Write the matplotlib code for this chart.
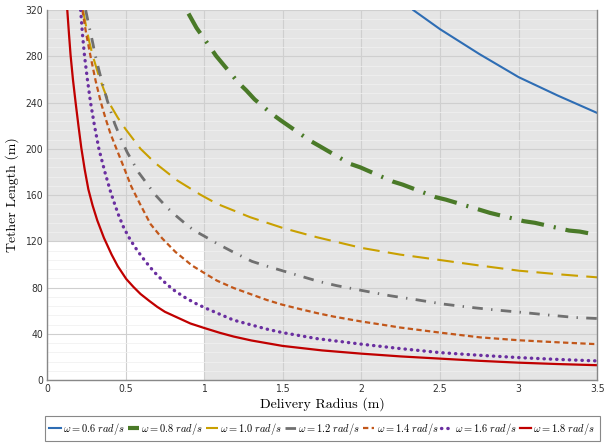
import matplotlib.pyplot as plt
from matplotlib.patches import Rectangle

plt.rcParams['mathtext.fontset'] = 'cm'

# values (delivery radius r in m, tether length L in m)
r_06 = [2.33, 2.5, 2.75, 3.0, 3.25, 3.5]
L_06 = [320, 303.5, 282, 262, 246, 231]

r_08 = [0.90, 0.951, 1.036, 1.075, 1.219, 1.268, 1.321, 1.435, 1.488, 1.674, 1.733,
        1.928, 1.992, 2.197, 2.263, 2.472, 2.538, 2.754, 2.817, 3.033, 3.103, 3.321, 3.389, 3.5]
L_08 = [317, 304.6, 288.3, 280.5, 257, 250.5, 242.7, 229.7, 224.5, 207, 202.4,
        187, 184, 171.8, 169, 158.2, 156, 147.2, 144.6, 137.4, 136, 129.3, 128.4, 125.5]

r_10 = [0.229, 0.25, 0.27, 0.292, 0.33, 0.362, 0.394, 0.45, 0.5, 0.595, 0.69, 0.828,
        0.976, 1.082, 1.293, 1.505, 1.717, 2.0, 2.246, 2.5, 2.754, 3.0, 3.25, 3.5]
L_10 = [320, 305, 292, 280, 263, 251, 240, 227, 217, 200, 187.5, 172.7,
        160.3, 152.4, 140.8, 131.3, 123.5, 114.3, 108.5, 103.8, 99, 94.6, 91.5, 88.8]

r_12 = [0.246, 0.263, 0.292, 0.305, 0.333, 0.362, 0.383, 0.43, 0.474, 0.51, 0.584, 0.652,
        0.69, 0.758, 0.806, 0.891, 0.94, 1.0, 1.086, 1.187, 1.304, 1.403, 1.511, 1.625,
        1.727, 1.844, 2.013, 2.182, 2.352, 2.52, 2.69, 2.86, 3.029, 3.198, 3.367, 3.5]
L_12 = [320, 309, 291, 282, 266.6, 252, 242, 222, 207.4, 197, 179.3, 166.9,
        160, 150, 143.8, 134, 129, 124.5, 117.7, 110.5, 102.6, 98.3, 94, 89.4,
        85.3, 81.6, 77.2, 72.9, 69.4, 65.7, 62.9, 60.5, 58.4, 56.1, 54, 53.2]

r_14 = [0.225, 0.25, 0.277, 0.309, 0.341, 0.373, 0.404, 0.436, 0.48, 0.536, 0.589,
        0.658, 0.733, 0.817, 0.923, 1.029, 1.082, 1.187, 1.293, 1.399, 1.498, 1.611,
        1.717, 1.822, 2.0, 2.14, 2.246, 2.5, 2.754, 3.0, 3.25, 3.5]
L_14 = [320, 299, 280, 259, 241, 226, 213, 202, 187, 167.5, 153,
        135, 122.5, 110.8, 99, 90.2, 85.9, 79.6, 74.4, 69.2, 65.1, 61.3,
        57.9, 54.9, 50.6, 47.7, 45.4, 41, 36.9, 34.4, 32.6, 31]

r_16 = [0.214, 0.225, 0.239, 0.257, 0.277, 0.302, 0.33, 0.368, 0.404, 0.43, 0.457, 0.489,
        0.531, 0.578, 0.627, 0.68, 0.737, 0.8, 0.87, 0.94, 1.012, 1.187, 1.399, 1.498,
        1.717, 2.0, 2.246, 2.5, 2.75, 3.0, 3.25, 3.5]
L_16 = [320, 300, 280, 260, 240, 220, 200, 180, 163, 152.4, 142, 131.5,
        121, 111.3, 102.4, 93.7, 85.9, 78.4, 72, 66.6, 62, 51.8, 44, 41,
        35.8, 31, 27.2, 23.7, 21.4, 19.4, 17.8, 16.5]

r_18 = [0.129, 0.14, 0.15, 0.165, 0.182, 0.2, 0.218, 0.24, 0.263, 0.29, 0.32, 0.362,
        0.411, 0.45, 0.504, 0.55, 0.595, 0.65, 0.701, 0.75, 0.806, 0.912, 1.0, 1.1,
        1.187, 1.3, 1.498, 1.75, 2.0, 2.25, 2.5, 2.75, 3.0, 3.25, 3.5]
L_18 = [320, 299, 281, 260, 240, 220, 201, 182, 165, 151, 138, 123,
        108.5, 98.5, 87.4, 80.5, 74.4, 68.5, 63.3, 59, 55.5, 48.9, 45, 40.8,
        37.6, 34.2, 29.5, 25.6, 22.8, 20.4, 18.5, 16.6, 15, 13.8, 12.8]

x_ticks = [0, 0.5, 1, 1.5, 2, 2.5, 3, 3.5]
x_tick_labels = ['0', '0.5', '1', '1.5', '2', '2.5', '3', '3.5']
y_ticks = [0, 40, 80, 120, 160, 200, 240, 280, 320]

fig = plt.figure(figsize=(6.08, 4.43), dpi=100)
ax = fig.add_axes([0.0773, 0.1422, 0.905, 0.835])

# shaded region (everything except r<1, L<120)
ax.add_patch(Rectangle((1, 0), 2.5, 320, facecolor='#e5e5e5', edgecolor='none', zorder=0))
ax.add_patch(Rectangle((0, 120), 1, 200, facecolor='#e5e5e5', edgecolor='none', zorder=0))

ax.plot(r_06, L_06, color='#2e6db4', lw=1.5, label=r'$\omega = 0.6\ rad/s$')
ax.plot(r_08, L_08, color='#4a7a28', lw=3, ls=(0, (5.5, 2.4, 0.5, 2.4)), label=r'$\omega = 0.8\ rad/s$')
ax.plot(r_10, L_10, color='#c9a000', lw=1.5, ls=(0, (8, 4)), label=r'$\omega = 1.0\ rad/s$')
ax.plot(r_12, L_12, color='#707070', lw=2, ls=(0, (3.8, 3, 0.5, 3)), label=r'$\omega = 1.2\ rad/s$')
ax.plot(r_14, L_14, color='#c2571a', lw=1.6, ls=(0, (2.4, 1.5)), label=r'$\omega = 1.4\ rad/s$')
ax.plot(r_16, L_16, color='#6a2fa0', lw=2.4, ls=(0, (0.1, 1.8)), dash_capstyle='round',
        label=r'$\omega = 1.6\ rad/s$')
ax.plot(r_18, L_18, color='#c00000', lw=1.6, label=r'$\omega = 1.8\ rad/s$')

ax.set_xlim(0, 3.5)
ax.set_ylim(0, 320)
ax.set_xticks(x_ticks)
ax.set_xticklabels(x_tick_labels)
ax.set_yticks(y_ticks)
ax.set_yticks(range(0, 321, 8), minor=True)
ax.grid(which='major', color='#cfcfcf', lw=0.8, zorder=0.5)
ax.grid(which='minor', axis='y', color='#f0f0f0', lw=0.7, alpha=0.8, zorder=0.4)
ax.set_axisbelow(True)

ax.tick_params(which='both', length=0, labelsize=7.5, colors='#333333', pad=3)
for lab in ax.get_xticklabels() + ax.get_yticklabels():
    lab.set_fontstretch('condensed')

ax.spines['top'].set_visible(False)
for s in ['left', 'bottom', 'right']:
    ax.spines[s].set_color('#888888')
    ax.spines[s].set_linewidth(1)

ax.set_xlabel('Delivery Radius (m)', family='cmr10', fontsize=10, labelpad=2)
ax.set_ylabel('Tether Length (m)', family='cmr10', fontsize=10)
ax.yaxis.set_label_coords(-0.05, 0.5)

leg = fig.legend(loc='lower center', bbox_to_anchor=(0.53, 0.004), ncol=7, fontsize=7.5,
                 handlelength=1.1, handletextpad=0.2, columnspacing=0.3,
                 borderpad=0.45, borderaxespad=0, fancybox=False,
                 edgecolor='#888888', framealpha=1)
leg.get_frame().set_linewidth(0.8)

fig.savefig('out.png', dpi=100)
